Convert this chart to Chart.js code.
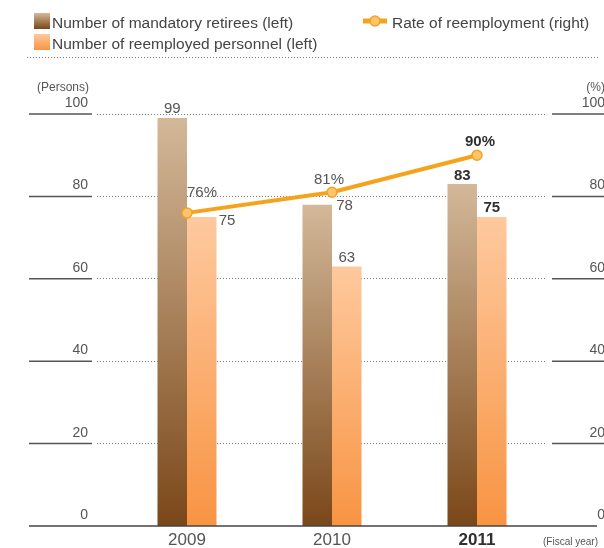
<!DOCTYPE html>
<html lang="en">
<head>
<meta charset="UTF-8">
<title>Mandatory retirees and reemployment</title>
<script src="https://cdn.jsdelivr.net/npm/chart.js@4"></script>
<style>
  html, body { margin: 0; padding: 0; background: #fff; }
  #chart { display: block; }
</style>
</head>
<body>
<canvas id="chart" width="604" height="548"></canvas>
<script>
// Data
const fiscalYears = ['2009', '2010', '2011'];
const retirees = [99, 78, 83];
const reemployed = [75, 63, 75];
const reemploymentRate = [76, 81, 90];
const personTicks = [0, 20, 40, 60, 80, 100];
const rateTicks = [0, 20, 40, 60, 80, 100];
const latestYear = '2011';

// where each value label sits relative to its bar / point
const retireeLabelPos = [
    { align: 'center', dx: 0, dy: -5 },
    { align: 'left', dx: 19, dy: 5 },
    { align: 'center', dx: 0, dy: -4 }
];
const reemployedLabelPos = [
    { align: 'left', dx: 17, dy: 8 },
    { align: 'center', dx: 0, dy: -4 },
    { align: 'center', dx: 0, dy: -5 }
];
const rateLabelPos = [
    { align: 'left', dx: 0, dy: -16 },
    { align: 'center', dx: -3, dy: -8 },
    { align: 'center', dx: 3, dy: -9 }
];

const FAMILY = '"Liberation Sans", Arial, sans-serif';
const TEXT = '#555';
const TEXT_DARK = '#2f2f2f';
const LINE_ORANGE = '#f5a31c';
const POINT_FILL = '#fcc46f';
const DARK_TOP = '#d3b899', DARK_BOTTOM = '#7a4719';
const LIGHT_TOP = '#fec99e', LIGHT_BOTTOM = '#f89443';

function font(size, bold) {
    return (bold ? 'bold ' : '') + size + 'px ' + FAMILY;
}

function gradient(ctx, top, bottom, c1, c2) {
    const g = ctx.createLinearGradient(0, top, 0, bottom);
    g.addColorStop(0, c1);
    g.addColorStop(1, c2);
    return g;
}

function barFill(c1, c2) {
    return function (context) {
        const chart = context.chart;
        if (!chart.chartArea || context.type !== 'data') return c2;
        const y = chart.scales.y;
        return gradient(chart.ctx, y.getPixelForValue(context.raw), y.getPixelForValue(0), c1, c2);
    };
}

function dotted(ctx, x1, x2, y) {
    ctx.save();
    ctx.strokeStyle = '#7a7a7a';
    ctx.lineWidth = 1;
    ctx.setLineDash([1, 2]);
    ctx.beginPath();
    ctx.moveTo(x1, y + 0.5);
    ctx.lineTo(x2, y + 0.5);
    ctx.stroke();
    ctx.restore();
}

function solid(ctx, x1, x2, y) {
    ctx.beginPath();
    ctx.moveTo(x1, y);
    ctx.lineTo(x2, y);
    ctx.stroke();
}

const frame = {
    id: 'frame',
    beforeDatasetsDraw(chart) {
        const { ctx, scales } = chart;
        const y = scales.y, y2 = scales.y2;
        ctx.save();

        // legend
        ctx.fillStyle = gradient(ctx, 13, 29, DARK_TOP, DARK_BOTTOM);
        ctx.fillRect(34, 13, 16, 16);
        ctx.fillStyle = gradient(ctx, 34, 50, LIGHT_TOP, LIGHT_BOTTOM);
        ctx.fillRect(34, 34, 16, 16);
        ctx.strokeStyle = LINE_ORANGE;
        ctx.lineWidth = 5;
        solid(ctx, 363, 387, 21);
        ctx.beginPath();
        ctx.arc(375, 21, 5, 0, Math.PI * 2);
        ctx.fillStyle = POINT_FILL;
        ctx.fill();
        ctx.lineWidth = 1.5;
        ctx.stroke();

        ctx.fillStyle = '#444';
        ctx.font = font(15.5);
        ctx.textAlign = 'left';
        ctx.textBaseline = 'alphabetic';
        ctx.fillText(chart.data.datasets[0].label, 52, 28);
        ctx.fillText(chart.data.datasets[1].label, 52, 49);
        ctx.fillText(chart.data.datasets[2].label, 392, 28);
        dotted(ctx, 27, 599, 57);

        // axis units
        ctx.fillStyle = TEXT;
        ctx.font = font(12);
        ctx.textAlign = 'right';
        ctx.fillText('(Persons)', 89, 91);
        ctx.fillText('(%)', 605, 91);

        // grid and tick labels
        ctx.strokeStyle = '#555';
        ctx.lineWidth = 1.5;
        ctx.font = font(14);
        personTicks.forEach(t => {
            const py = y.getPixelForValue(t);
            ctx.textAlign = 'right';
            ctx.fillText(String(t), 88, py - 7);
            if (t === 0) return;
            solid(ctx, 29, 92, py);
            dotted(ctx, 97, 545, Math.floor(py));
        });
        rateTicks.forEach(t => {
            const py = y2.getPixelForValue(t);
            ctx.textAlign = 'right';
            ctx.fillText(String(t), 605, py - 7);
            if (t === 0) return;
            solid(ctx, 552, 604, py);
        });
        ctx.restore();
    },
    afterDatasetsDraw(chart) {
        const { ctx, scales } = chart;
        const x = scales.x, y = scales.y;
        ctx.save();

        // base line
        ctx.strokeStyle = '#444';
        ctx.lineWidth = 1.5;
        solid(ctx, 29, 597, y.getPixelForValue(0));

        // category labels
        ctx.textBaseline = 'alphabetic';
        ctx.textAlign = 'center';
        fiscalYears.forEach((yr, i) => {
            const bold = yr === latestYear;
            ctx.font = font(17, bold);
            ctx.fillStyle = bold ? TEXT_DARK : TEXT;
            ctx.fillText(yr, x.getPixelForValue(i), 545);
        });
        ctx.font = font(10);
        ctx.fillStyle = TEXT;
        ctx.textAlign = 'left';
        ctx.fillText('(Fiscal year)', 543, 545);

        // value labels
        const groups = [
            { values: retirees, pos: retireeLabelPos, suffix: '' },
            { values: reemployed, pos: reemployedLabelPos, suffix: '' },
            { values: reemploymentRate, pos: rateLabelPos, suffix: '%' }
        ];
        groups.forEach((g, d) => {
            const meta = chart.getDatasetMeta(d);
            meta.data.forEach((el, i) => {
                const bold = fiscalYears[i] === latestYear;
                const p = g.pos[i];
                ctx.font = font(15, bold);
                ctx.fillStyle = bold ? TEXT_DARK : TEXT;
                ctx.textAlign = p.align;
                ctx.fillText(g.values[i] + g.suffix, el.x + p.dx, el.y + p.dy);
            });
        });
        ctx.restore();
    }
};

new Chart(document.getElementById('chart'), {
    type: 'bar',
    data: {
        labels: fiscalYears,
        datasets: [
            {
                label: 'Number of mandatory retirees (left)',
                data: retirees,
                backgroundColor: barFill(DARK_TOP, DARK_BOTTOM),
                yAxisID: 'y',
                order: 2
            },
            {
                label: 'Number of reemployed personnel (left)',
                data: reemployed,
                backgroundColor: barFill(LIGHT_TOP, LIGHT_BOTTOM),
                yAxisID: 'y',
                order: 2
            },
            {
                type: 'line',
                label: 'Rate of reemployment (right)',
                data: reemploymentRate,
                borderColor: LINE_ORANGE,
                borderWidth: 4,
                pointRadius: 5,
                pointBackgroundColor: POINT_FILL,
                pointBorderColor: LINE_ORANGE,
                pointBorderWidth: 1.5,
                tension: 0,
                yAxisID: 'y2',
                order: 1
            }
        ]
    },
    options: {
        responsive: false,
        animation: false,
        layout: { padding: { left: 114.5, right: 54.5, top: 114, bottom: 22 } },
        datasets: {
            bar: { categoryPercentage: 0.407, barPercentage: 1 }
        },
        scales: {
            x: { display: false },
            y: { display: false, min: personTicks[0], max: personTicks[personTicks.length - 1] },
            y2: { display: false, min: rateTicks[0], max: rateTicks[rateTicks.length - 1] }
        },
        plugins: {
            legend: { display: false },
            tooltip: { enabled: false }
        }
    },
    plugins: [frame]
});
</script>
</body>
</html>
